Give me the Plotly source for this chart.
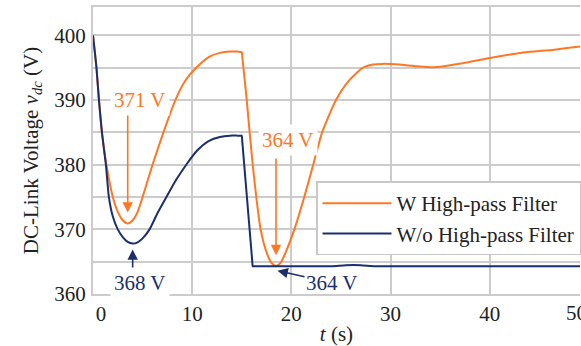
import plotly.graph_objects as go

# DC-link voltage transients, with and without the high-pass filter
t_hpf = [0, 0.35, 0.6, 0.9, 1.35, 2.0, 2.5, 3.0, 3.5, 4.0, 4.5, 5.0, 6.0, 7.1,
         8.3, 9.3, 10.4, 11.7, 12.8, 13.8, 14.6, 15.0, 15.05, 15.5, 16.1, 16.9,
         17.6, 18.0, 18.45, 18.9, 19.3, 20.3, 21.3, 22.2, 23.1, 24.5, 25.8,
         27.2, 28.2, 29.2, 30.9, 32.2, 34.6, 37.3, 40.0, 43.1, 46.5, 49.2, 50.0]
v_hpf = [400, 395, 390, 385, 380, 375, 372.7, 371.4, 370.9, 371.4, 372.7, 375,
         380, 385, 390, 393, 395, 396.7, 397.3, 397.5, 397.5, 397.4, 396.7, 390,
         380, 370, 366, 364.8, 364.3, 364.8, 366, 370, 375, 380, 385, 390, 393,
         395, 395.5, 395.6, 395.5, 395.3, 395.1, 395.7, 396.5, 397.3, 397.8,
         398.3, 398.4]

t_nohpf = [0, 0.35, 0.6, 0.9, 1.3, 1.6, 2.0, 2.5, 3.0, 3.5, 4.0, 4.5, 5.0, 5.7,
           6.5, 7.4, 8.4, 9.4, 10.5, 11.7, 12.8, 13.8, 14.6, 14.95, 15.0, 15.05,
           16.05, 16.1, 16.15, 16.5, 20.0, 24.0, 25.5, 27.0, 28.5, 35.0, 50.0]
v_nohpf = [400, 395, 390, 385, 380, 375, 372, 370, 368.8, 368.05, 367.8, 368.0,
           368.6, 370, 372.5, 375, 377.7, 380, 382.2, 383.7, 384.3, 384.5, 384.5,
           384.5, 384.5, 383.6, 365.2, 364.3, 364.3, 364.3, 364.3, 364.3, 364.45,
           364.45, 364.3, 364.3, 364.3]

names = ["W High-pass Filter", "W/o High-pass Filter"]
colors = ["#FF7722", "#1B2F6E"]

x_range = [0, 49.1]
y_range = [360, 404.4]
x_ticks = [0, 10, 20, 30, 40]
x_ticktext = ["\u00a0\u00a0\u00a00", "10", "20", "30", "40"]
x_edge_tick = 50

# (tip t, tip v, tail v) for the vertical pointer arrows
arrows = [
    (3.5, 372.6, 388.0, colors[0]),
    (4.0, 366.9, 363.7, colors[1]),
    (18.45, 366.0, 381.2, colors[0]),
]
# (text, t, v, colour)
labels = [
    ("371 V", 4.7, 390.0, colors[0]),
    ("368 V", 4.7, 361.7, colors[1]),
    ("364 V", 19.7, 383.8, colors[0]),
]

font_family = "Times New Roman, Liberation Serif, Tinos, Times, serif"
font_size = 21
grid_color = "#CCCCCC"
text_color = "#222222"

fig = go.Figure()
fig.add_trace(go.Scatter(x=t_hpf, y=v_hpf, mode="lines", name=names[0],
                         line=dict(color=colors[0], width=2, shape="spline",
                                   smoothing=0.6)))
fig.add_trace(go.Scatter(x=t_nohpf, y=v_nohpf, mode="lines", name=names[1],
                         line=dict(color=colors[1], width=2, shape="spline",
                                   smoothing=0.6)))

annotations = []
for tx, ty, tail, c in arrows:
    annotations.append(dict(x=tx, y=ty, xref="x", yref="y", text="",
                            showarrow=True, axref="x", ayref="y", ax=tx, ay=tail,
                            arrowhead=2, arrowsize=1.3, arrowwidth=1.6,
                            arrowcolor=c))
for txt, tx, ty, c in labels:
    annotations.append(dict(x=tx, y=ty, xref="x", yref="y", text=txt,
                            showarrow=False, bgcolor="white", borderpad=3,
                            font=dict(size=font_size, color=c,
                                      family=font_family)))
# navy 364 V label with its slanted pointer
annotations.append(dict(x=18.6, y=363.6, xref="x", yref="y", text="364 V",
                        showarrow=True, axref="x", ayref="y", ax=24.1, ay=361.7,
                        arrowhead=2, arrowsize=1.3, arrowwidth=1.6,
                        arrowcolor=colors[1],
                        font=dict(size=font_size, color=colors[1],
                                  family=font_family)))
# the 50 s tick label sits just past the right edge of the axis
annotations.append(dict(x=(x_edge_tick - x_range[0]) / (x_range[1] - x_range[0]),
                        y=0, xref="paper", yref="paper", text=str(x_edge_tick),
                        showarrow=False, yanchor="top", yshift=-5,
                        font=dict(size=font_size, color=text_color,
                                  family=font_family)))

axis_font = dict(family=font_family, size=font_size, color=text_color)

fig.update_layout(
    width=581, height=346,
    margin=dict(l=93, r=0, t=7, b=52),
    paper_bgcolor="white", plot_bgcolor="white",
    font=axis_font,
    showlegend=True,
    legend=dict(x=0.458, y=0.392, xanchor="left", yanchor="top",
                bgcolor="white", bordercolor="#C8C8C8", borderwidth=1.5,
                itemwidth=69, font=axis_font),
    annotations=annotations,
    xaxis=dict(range=x_range, tickvals=x_ticks, ticktext=x_ticktext,
               showgrid=True, gridcolor=grid_color, gridwidth=2,
               showline=True, linecolor=grid_color, linewidth=2, mirror=True,
               zeroline=False, ticks="", ticklabelstandoff=0, automargin=False,
               tickfont=axis_font,
               title=dict(text="<i>t</i> (s)", standoff=5, font=axis_font)),
    yaxis=dict(range=y_range, dtick=10, tick0=360,
               showgrid=True, gridcolor=grid_color, gridwidth=2,
               minor=dict(dtick=5, tick0=360, showgrid=True,
                          gridcolor=grid_color, gridwidth=2),
               showline=True, linecolor=grid_color, linewidth=2,
               zeroline=False, ticks="", ticklabelstandoff=1, automargin=False,
               tickfont=axis_font,
               title=dict(text="DC-Link Voltage <i>v</i><sub><i>dc</i></sub> (V)",
                          standoff=10, font=axis_font)),
)

fig.write_html("out.html")
